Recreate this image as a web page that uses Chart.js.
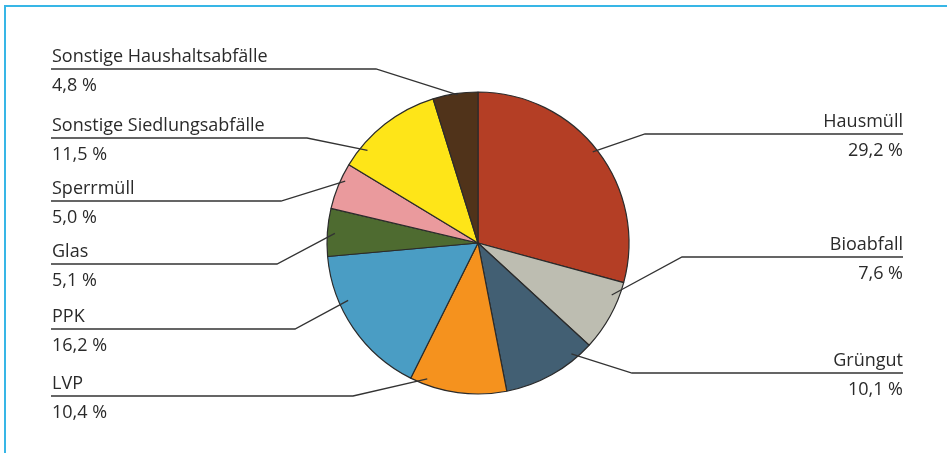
<!DOCTYPE html>
<html>
<head>
<meta charset="utf-8">
<script src="https://cdn.jsdelivr.net/npm/chart.js@4/dist/chart.umd.min.js"></script>
<style>
  html, body { margin: 0; padding: 0; background: #ffffff; }
  #wrap { position: relative; width: 947px; height: 453px; }
  #frame { position: absolute; left: 4px; top: 5px; right: 0; bottom: 0;
           border-top: 2px solid #38b6e6; border-left: 2px solid #38b6e6; pointer-events: none; }
  canvas { position: absolute; left: 0; top: 0; }
</style>
</head>
<body>
<div id="wrap">
  <canvas id="c" width="947" height="453"></canvas>
  <div id="frame"></div>
</div>
<script>
// ---- Data ----
const categories = ["Hausmüll", "Bioabfall", "Grüngut", "LVP", "PPK", "Glas", "Sperrmüll", "Sonstige Siedlungsabfälle", "Sonstige Haushaltsabfälle"];
const values = [29.2, 7.6, 10.1, 10.4, 16.2, 5.1, 5.0, 11.5, 4.8];
const colors = ["#b43e25", "#bdbdb1", "#425f73", "#f5921e", "#4a9dc4", "#4e6b30", "#ea9a9d", "#fee518", "#50331a"];

// ---- Label layout (annotation placement, not data) ----
// side, y of underline, x of elbow, anchor position within slice (angle fraction, radius fraction)
const labelLayout = [
  { side: "right", lineY: 134, elbowX: 645, frac: 0.49, rad: 0.97 },
  { side: "right", lineY: 257, elbowX: 682, frac: 0.22, rad: 0.95 },
  { side: "right", lineY: 373, elbowX: 632, frac: 0.20, rad: 0.96 },
  { side: "left",  lineY: 396, elbowX: 353, frac: 0.84, rad: 0.96 },
  { side: "left",  lineY: 329, elbowX: 295, frac: 0.68, rad: 0.94 },
  { side: "left",  lineY: 264, elbowX: 277, frac: 0.49, rad: 0.95 },
  { side: "left",  lineY: 201, elbowX: 281, frac: 0.65, rad: 0.97 },
  { side: "left",  lineY: 138, elbowX: 307, frac: 0.21, rad: 0.955 },
  { side: "left",  lineY: 69,  elbowX: 376, frac: 0.55, rad: 0.99 }
];
const leftX = 51, rightX = 903;

function fmt(v) { return v.toFixed(1).replace(".", ",") + " %"; }

const labelPlugin = {
  id: "leaderLabels",
  afterDatasetsDraw(chart) {
    const ctx = chart.ctx;
    const meta = chart.getDatasetMeta(0);
    ctx.save();
    ctx.strokeStyle = "#333333";
    ctx.lineWidth = 1.3;
    ctx.fillStyle = "#2a2a2a";
    ctx.font = "18px 'Open Sans'";
    ctx.textBaseline = "alphabetic";
    meta.data.forEach((arc, i) => {
      const L = labelLayout[i];
      const p = arc.getProps(["x", "y", "startAngle", "endAngle", "outerRadius"], true);
      const ang = p.startAngle + L.frac * (p.endAngle - p.startAngle);
      const ax = p.x + Math.cos(ang) * p.outerRadius * L.rad;
      const ay = p.y + Math.sin(ang) * p.outerRadius * L.rad;
      const startX = L.side === "left" ? leftX : rightX;
      ctx.beginPath();
      ctx.moveTo(startX, L.lineY);
      ctx.lineTo(L.elbowX, L.lineY);
      ctx.lineTo(ax, ay);
      ctx.stroke();
      if (L.side === "left") {
        ctx.textAlign = "left";
        ctx.fillText(categories[i], leftX + 1, L.lineY - 7);
        ctx.fillText(fmt(values[i]), leftX + 1, L.lineY + 22);
      } else {
        ctx.textAlign = "right";
        ctx.fillText(categories[i], rightX, L.lineY - 7);
        ctx.fillText(fmt(values[i]), rightX, L.lineY + 22);
      }
    });
    ctx.restore();
  }
};

new Chart(document.getElementById("c"), {
  type: "pie",
  data: {
    labels: categories,
    datasets: [{
      data: values,
      backgroundColor: colors,
      borderColor: "#2b2b2b",
      borderWidth: 1.2
    }]
  },
  options: {
    responsive: false,
    animation: false,
    radius: 151,
    layout: { padding: { left: 9, top: 33, right: 0, bottom: 0 } },
    plugins: {
      legend: { display: false },
      tooltip: { enabled: false }
    }
  },
  plugins: [labelPlugin]
});
</script>
</body>
</html>
